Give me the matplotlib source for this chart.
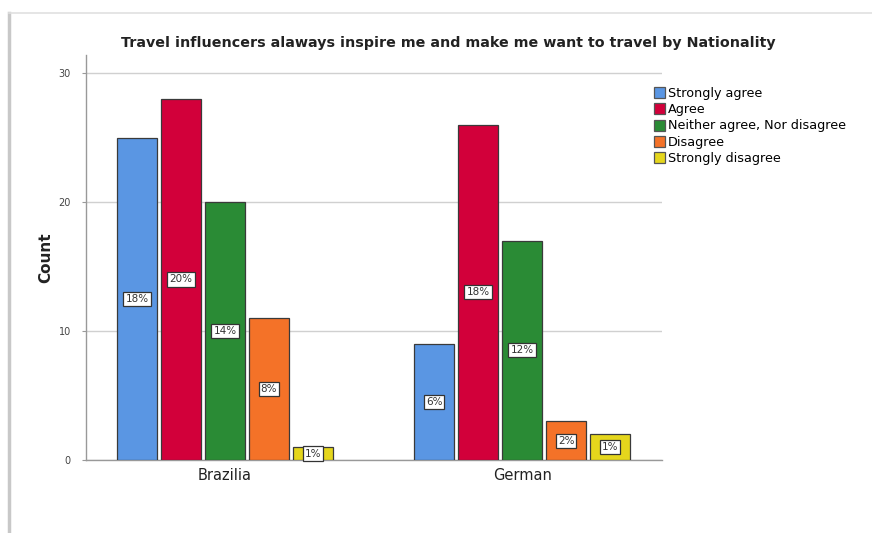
import matplotlib
matplotlib.use("Agg")
import matplotlib.pyplot as plt
from matplotlib.lines import Line2D
import numpy as np

nationalities = ["Brazilia", "German"]
responses = ["Strongly agree", "Agree", "Neither agree, Nor disagree", "Disagree", "Strongly disagree"]
counts = {
    "Strongly agree": [25, 9],
    "Agree": [28, 26],
    "Neither agree, Nor disagree": [20, 17],
    "Disagree": [11, 3],
    "Strongly disagree": [1, 2],
}
pct_labels = {
    "Strongly agree": ["18%", "6%"],
    "Agree": ["20%", "18%"],
    "Neither agree, Nor disagree": ["14%", "12%"],
    "Disagree": ["8%", "2%"],
    "Strongly disagree": ["1%", "1%"],
}
colors = ["#5a96e3", "#d2003a", "#2a8b35", "#f47228", "#e5d61c"]
yticks = [0, 10, 20, 30]

fig = plt.figure(figsize=(8.72, 5.33), dpi=100)
ax = fig.add_axes([86/872, 1-460/533, (662-86)/872, (460-55)/533])

x = np.arange(len(nationalities))
width = 0.1347
step = 0.148
for i, r in enumerate(responses):
    xs = x + (i - 2) * step
    bars = ax.bar(xs, counts[r], width=width, color=colors[i], edgecolor="#3a3a3a",
                  linewidth=0.9, label=r, zorder=3)
    for b, lab in zip(bars, pct_labels[r]):
        h = b.get_height()
        ax.text(b.get_x() + b.get_width()/2, h/2, lab, ha="center", va="center",
                fontsize=7.5, color="#333333", zorder=4,
                bbox=dict(boxstyle="square,pad=0.2", fc="white", ec="#333333", lw=0.9))

ax.set_xlim(-0.468, 1.471)
ax.set_ylim(0, 31.4)
ax.set_yticks(yticks)
ax.set_yticklabels([str(t) for t in yticks], fontsize=7, color="#444444")
ax.set_xticks(x)
ax.set_xticklabels(nationalities, fontsize=10.5, color="#222222")
ax.tick_params(axis="x", length=0, pad=6)
ax.tick_params(axis="y", length=3, color="#999999", pad=8)
ax.yaxis.grid(True, color="#d0d0d0", linewidth=1.0, zorder=0)
ax.set_axisbelow(True)
for s in ["top", "right"]:
    ax.spines[s].set_visible(False)
for s in ["left", "bottom"]:
    ax.spines[s].set_color("#999999")
    ax.spines[s].set_linewidth(1.0)

ax.set_ylabel("Count", fontsize=11, fontweight="bold", labelpad=4, color="#222222")
fig.text(448/872, 1-43/533, "Travel influencers alaways inspire me and make me want to travel by Nationality",
         ha="center", va="center", fontsize=10.3, fontweight="bold", color="#222222")

leg = fig.legend(loc="upper left", bbox_to_anchor=(649/872, 1-82/533), frameon=False,
                 fontsize=9.2, handlelength=0.85, handleheight=0.95, handletextpad=0.2,
                 labelspacing=0.25, borderaxespad=0)
for p in leg.get_patches():
    p.set_edgecolor("#555555")

# screenshot frame
fig.add_artist(Line2D([9/872, 9/872], [0, 1-13/533], color="#c8c8c8", lw=2.5, transform=fig.transFigure))
fig.add_artist(Line2D([9/872, 1], [1-13/533, 1-13/533], color="#e0e0e0", lw=1.2, transform=fig.transFigure))

fig.savefig("out.png", dpi=100)
